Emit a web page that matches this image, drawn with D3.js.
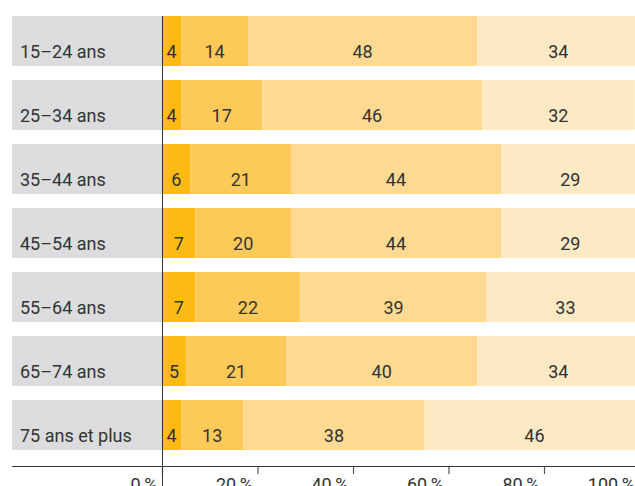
<!DOCTYPE html>
<html>
<head>
<meta charset="utf-8">
<script src="https://cdn.jsdelivr.net/npm/d3@7"></script>
<style>
  html, body { margin: 0; padding: 0; background: #fff; }
  svg { display: block; }
  text { font-family: Roboto, "Noto Sans", sans-serif; fill: #333; }
</style>
</head>
<body>
<svg id="chart" width="635" height="486"></svg>
<script>
// Age groups and their share across four ordered classes (percent)
const categories = ["15–24 ans", "25–34 ans", "35–44 ans", "45–54 ans", "55–64 ans", "65–74 ans", "75 ans et plus"];
const seriesA = [4, 4, 6, 7, 7, 5, 4];
const seriesB = [14, 17, 21, 20, 22, 21, 13];
const seriesC = [48, 46, 44, 44, 39, 40, 38];
const seriesD = [34, 32, 29, 29, 33, 34, 46];
const tickValues = [0, 20, 40, 60, 80, 100];
const colors = ["#fcba12", "#fdca5a", "#fdd991", "#fee9c5"];

const svg = d3.select("#chart");
const x = d3.scaleLinear().domain([0, 100]).range([162, 639.5]);
const y = d3.scaleBand().domain(categories).range([16, 450]).paddingInner(14 / 64).paddingOuter(0);

const series = [seriesA, seriesB, seriesC, seriesD];
const rows = categories.map((c, i) => {
  let acc = 0;
  return {
    cat: c,
    segs: series.map((s, k) => {
      const seg = { k, v: s[i], x0: acc, x1: acc + s[i] };
      acc += s[i];
      return seg;
    })
  };
});

// grey label panels
svg.append("g").selectAll("rect").data(categories).join("rect")
  .attr("x", 12).attr("y", d => y(d))
  .attr("width", x(0) - 12).attr("height", y.bandwidth())
  .attr("fill", "#dcdcde");

svg.append("g").selectAll("text").data(categories).join("text")
  .attr("x", 20).attr("y", d => y(d) + y.bandwidth() - 8)
  .attr("font-size", 18)
  .text(d => d);

// stacked bars
const rowG = svg.append("g").selectAll("g").data(rows).join("g")
  .attr("transform", d => `translate(0,${y(d.cat)})`);

rowG.selectAll("rect").data(d => d.segs).join("rect")
  .attr("x", d => x(d.x0)).attr("y", 0)
  .attr("width", d => x(d.x1) - x(d.x0)).attr("height", y.bandwidth())
  .attr("fill", d => colors[d.k]);

rowG.selectAll("text").data(d => d.segs).join("text")
  .attr("x", d => (x(d.x0) + x(d.x1)) / 2)
  .attr("y", y.bandwidth() - 8)
  .attr("text-anchor", "middle")
  .attr("font-size", 18)
  .text(d => d.v);

// bottom axis
const axis = d3.axisBottom(x).tickValues(tickValues).tickSize(8).tickSizeOuter(0)
  .tickFormat(d => d + "\u2009%");
const ax = svg.append("g").attr("transform", "translate(0,466)").call(axis);
ax.select(".domain").remove();
ax.selectAll(".tick line").attr("stroke", "#555").attr("stroke-width", 1.2);
ax.selectAll(".tick text")
  .attr("text-anchor", "end").attr("x", -5).attr("y", 8).attr("dy", "0.95em")
  .attr("font-size", 18).attr("fill", "#333")
  .style("font-family", "Roboto, 'Noto Sans', sans-serif");
svg.append("line").attr("x1", 12).attr("x2", 635).attr("y1", 466.5).attr("y2", 466.5)
  .attr("stroke", "#333").attr("stroke-width", 1);

// zero line
svg.append("line").attr("x1", x(0) + 0.5).attr("x2", x(0) + 0.5).attr("y1", 16).attr("y2", 486)
  .attr("stroke", "#333").attr("stroke-width", 1);
</script>
</body>
</html>
